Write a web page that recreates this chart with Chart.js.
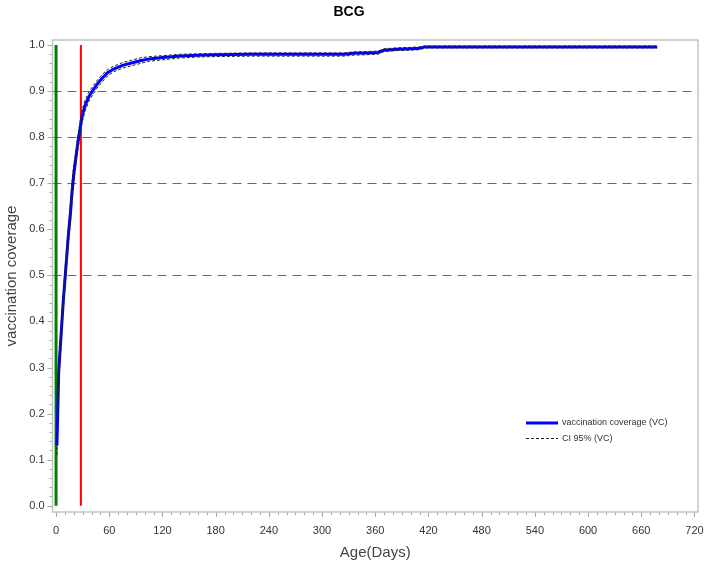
<!DOCTYPE html>
<html>
	<head>
		<meta charset="UTF-8" />
		<title>BCG</title>
		<script src="https://cdn.jsdelivr.net/npm/chart.js"></script>
		<style>
			html, body { margin: 0; padding: 0; background: #fff; }
			#wrap { width: 707px; height: 567px; }
		</style>
	</head>
	<body>
		<div id="wrap"><canvas id="bcgChart"></canvas></div>
		<script>
			// days since birth and cumulative coverage
			const days = [1, 3, 6, 8, 10, 12, 14, 16, 18, 20, 22, 24, 26, 28, 30, 33, 37, 42, 47, 52, 58, 65, 75, 85, 95, 105, 120, 140, 160, 180, 220, 260, 300, 325, 335, 350, 363, 370, 385, 400, 410, 416, 480, 560, 640, 678];
			const coverage = [0.13, 0.29, 0.38, 0.44, 0.49, 0.54, 0.59, 0.63, 0.68, 0.72, 0.75, 0.78, 0.805, 0.83, 0.85, 0.87, 0.888, 0.903, 0.917, 0.928, 0.94, 0.948, 0.956, 0.961, 0.966, 0.97, 0.973, 0.976, 0.978, 0.979, 0.98, 0.98, 0.98, 0.98, 0.982, 0.983, 0.984, 0.989, 0.991, 0.992, 0.993, 0.996, 0.996, 0.996, 0.996, 0.996];
			const ciLower = [0.11, 0.27, 0.36, 0.42, 0.47, 0.52, 0.57, 0.61, 0.66, 0.70, 0.735, 0.765, 0.79, 0.815, 0.837, 0.858, 0.878, 0.894, 0.909, 0.92, 0.933, 0.942, 0.95, 0.955, 0.96, 0.965, 0.968, 0.972, 0.974, 0.975, 0.976, 0.976, 0.976, 0.976, 0.978, 0.979, 0.980, 0.986, 0.988, 0.989, 0.990, 0.994, 0.994, 0.994, 0.994, 0.994];
			const ciUpper = [0.15, 0.31, 0.40, 0.46, 0.51, 0.56, 0.61, 0.65, 0.70, 0.74, 0.765, 0.795, 0.82, 0.845, 0.863, 0.882, 0.898, 0.912, 0.925, 0.936, 0.947, 0.954, 0.962, 0.967, 0.972, 0.975, 0.977, 0.980, 0.981, 0.982, 0.983, 0.983, 0.983, 0.983, 0.985, 0.986, 0.987, 0.992, 0.994, 0.995, 0.996, 0.998, 0.998, 0.998, 0.998, 0.998];

			// reference lines
			const targetLevels = [0.5, 0.7, 0.8, 0.9];
			const birthDay = 0;
			const targetDay = 28;

			const xMajorStep = 60, xMinorStep = 10;
			const yMajorStep = 0.1, yMinorStep = 0.02;

			const FONT = "'Liberation Sans', Arial, sans-serif";

			const toPoints = (xs, ys) => xs.map((x, i) => ({ x, y: ys[i] }));

			const framePlugin = {
				id: "frame",
				afterDraw(chart) {
					const { ctx, chartArea: a, scales: { x, y } } = chart;
					ctx.save();
					ctx.strokeStyle = "#a8a8a8";
					ctx.lineWidth = 1;
					// ticks on x
					for (let v = 0; v <= 720; v += xMinorStep) {
						const px = Math.round(x.getPixelForValue(v)) + 0.5;
						const len = v % xMajorStep === 0 ? 5 : 3;
						ctx.beginPath(); ctx.moveTo(px, a.bottom); ctx.lineTo(px, a.bottom + len); ctx.stroke();
					}
					// ticks on y
					for (let i = 0; i <= 50; i++) {
						const v = i * yMinorStep;
						const py = Math.round(y.getPixelForValue(v)) + 0.5;
						const len = i % 5 === 0 ? 5 : 3;
						ctx.beginPath(); ctx.moveTo(a.left, py); ctx.lineTo(a.left - len, py); ctx.stroke();
					}
					ctx.strokeStyle = "#c4c4c4";
					ctx.lineWidth = 1.5;
					ctx.strokeRect(a.left, a.top, a.right - a.left, a.bottom - a.top);
					ctx.restore();
				},
				beforeDatasetsDraw(chart) {
					const { ctx, chartArea: a, scales: { y } } = chart;
					ctx.save();
					ctx.strokeStyle = "#229922";
					ctx.lineWidth = 1.2;
					ctx.setLineDash([9, 6]);
					targetLevels.forEach(v => {
						const py = Math.round(y.getPixelForValue(v)) + 0.5;
						ctx.beginPath(); ctx.moveTo(a.left, py); ctx.lineTo(a.right, py); ctx.stroke();
					});
					ctx.restore();
				}
			};

			const legendPlugin = {
				id: "innerLegend",
				afterDatasetsDraw(chart) {
					const ctx = chart.ctx;
					const items = chart.data.datasets.filter(d => d.inLegend);
					ctx.save();
					ctx.font = "9px " + FONT;
					ctx.fillStyle = "#333";
					ctx.textBaseline = "middle";
					items.forEach((d, i) => {
						const yy = 423 + i * 15.5;
						ctx.beginPath();
						ctx.strokeStyle = d.borderColor;
						ctx.lineWidth = d.borderWidth;
						ctx.setLineDash(d.borderDash || []);
						ctx.moveTo(526, yy); ctx.lineTo(558, yy); ctx.stroke();
						ctx.fillText(d.label, 562, yy);
					});
					ctx.restore();
				}
			};

			new Chart(document.getElementById("bcgChart"), {
				type: "line",
				data: {
					datasets: [
						{
							label: "vaccination coverage (VC)",
							inLegend: true,
							data: toPoints(days, coverage),
							borderColor: "#0000ff",
							borderWidth: 3,
							pointRadius: 0,
							order: 1
						},
						{
							label: "CI 95% (VC)",
							inLegend: true,
							data: toPoints(days, ciLower),
							borderColor: "#222",
							borderWidth: 1,
							borderDash: [3, 2],
							pointRadius: 0,
							order: 0
						},
						{
							label: "CI upper",
							data: toPoints(days, ciUpper),
							borderColor: "#222",
							borderWidth: 1,
							borderDash: [3, 2],
							pointRadius: 0,
							order: 0
						},
						{
							label: "birth",
							data: toPoints([birthDay, birthDay], [0, 1]),
							borderColor: "#008000",
							borderWidth: 3,
							pointRadius: 0,
							order: 3
						},
						{
							label: "28 days",
							data: toPoints([targetDay, targetDay], [0, 1]),
							borderColor: "#ff0000",
							borderWidth: 2,
							pointRadius: 0,
							order: 2
						}
					]
				},
				options: {
					responsive: true,
					maintainAspectRatio: false,
					animation: false,
					layout: { padding: { left: 0, right: 9, top: 0, bottom: 0 } },
					plugins: {
						legend: { display: false },
						tooltip: { enabled: false },
						title: {
							display: true,
							text: "BCG",
							color: "#000",
							font: { family: FONT, size: 14, weight: "bold" },
							padding: { top: 4, bottom: 19.2 }
						}
					},
					scales: {
						x: {
							type: "linear",
							min: -4,
							max: 724,
							afterFit: s => { s.height = 55; s.paddingLeft = 0; s.paddingRight = 0; },
							grid: { display: false, drawTicks: false, tickLength: 0 },
							border: { display: false },
							ticks: {
								stepSize: xMajorStep,
								includeBounds: false,
								padding: 12,
								color: "#333",
								font: { family: FONT, size: 11 },
								maxRotation: 0,
								autoSkip: false
							},
							title: {
								display: true,
								text: "Age(Days)",
								color: "#444",
								font: { family: FONT, size: 15 },
								padding: { top: 5, bottom: 5 }
							}
						},
						y: {
							type: "linear",
							min: -0.0137,
							max: 1.011,
							afterFit: s => { s.width = 52.5; s.paddingTop = 0; s.paddingBottom = 0; },
							grid: { display: false, drawTicks: false, tickLength: 0 },
							border: { display: false },
							ticks: {
								stepSize: yMajorStep,
								includeBounds: false,
								padding: 8,
								color: "#333",
								font: { family: FONT, size: 11 },
								callback: v => v.toFixed(1)
							},
							title: {
								display: true,
								text: "vaccination coverage",
								color: "#444",
								font: { family: FONT, size: 15 },
								padding: { top: 3, bottom: 0 }
							}
						}
					}
				},
				plugins: [framePlugin, legendPlugin]
			});
		</script>
	</body>
</html>
